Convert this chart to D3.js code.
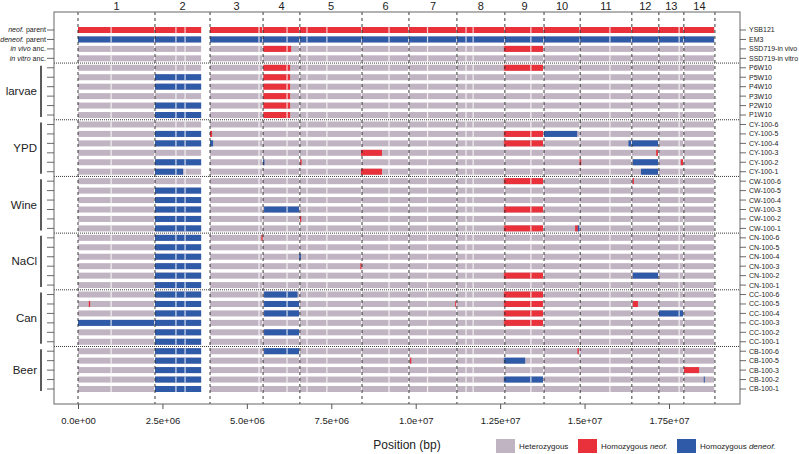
<!DOCTYPE html>
<html>
<head>
<meta charset="utf-8">
<script src="https://cdn.jsdelivr.net/npm/d3@7"></script>
<style>
  body { margin: 0; background: #fff; }
  text { font-family: "Liberation Sans", Arial, sans-serif; fill: #222; }
</style>
</head>
<body>
<div id="chart"></div>
<script>
// chromosome layout (bp)
var chrNames = ["1","2","3","4","5","6","7","8","9","10","11","12","13","14"];
var chrStart = [0, 2.28e6, 3.91e6, 5.48e6, 6.57e6, 8.41e6, 9.80e6, 11.22e6, 12.64e6, 13.80e6, 14.87e6, 16.40e6, 17.20e6, 17.94e6];
var chrEnd   = [2.28e6, 3.67e6, 5.48e6, 6.57e6, 8.41e6, 9.80e6, 11.22e6, 12.64e6, 13.80e6, 14.87e6, 16.40e6, 17.20e6, 17.94e6, 18.86e6];

// marker-free breaks shared by all strains (bp)
var breaks = [0.98e6, 2.90e6, 3.17e6, 5.36e6, 6.19e6, 6.78e6, 7.37e6, 9.21e6, 10.35e6, 11.49e6, 11.70e6, 13.41e6, 15.75e6, 17.80e6];

// strains, top to bottom
var samples = ["YSB121","EM3","SSD719-in vivo","SSD719-in vitro",
  "P6W10","P5W10","P4W10","P3W10","P2W10","P1W10",
  "CY-100-6","CY-100-5","CY-100-4","CY-100-3","CY-100-2","CY-100-1",
  "CW-100-6","CW-100-5","CW-100-4","CW-100-3","CW-100-2","CW-100-1",
  "CN-100-6","CN-100-5","CN-100-4","CN-100-3","CN-100-2","CN-100-1",
  "CC-100-6","CC-100-5","CC-100-4","CC-100-3","CC-100-2","CC-100-1",
  "CB-100-6","CB-100-5","CB-100-3","CB-100-2","CB-100-1"];

var ancestorLabels = [["neof.", " parent"], ["deneof.", " parent"], ["in vivo", " anc."], ["in vitro", " anc."]];
var groupNames = ["larvae", "YPD", "Wine", "NaCl", "Can", "Beer"];
var groupSizes = [6, 6, 6, 6, 6, 5];

// homozygous tracts: [strain, start, end, call]  N = neof., D = deneof.
var tracts = [
  ["YSB121", 0, 18.86e6, "N"],
  ["EM3", 0, 18.86e6, "D"],
  ["SSD719-in vivo", 5.49e6, 6.31e6, "N"], ["SSD719-in vivo", 12.61e6, 13.77e6, "N"],
  ["P6W10", 5.49e6, 6.28e6, "N"], ["P6W10", 12.61e6, 13.77e6, "N"],
  ["P5W10", 2.28e6, 3.67e6, "D"], ["P5W10", 5.49e6, 6.28e6, "N"],
  ["P4W10", 2.28e6, 3.67e6, "D"], ["P4W10", 5.49e6, 6.28e6, "N"],
  ["P3W10", 5.49e6, 6.28e6, "N"],
  ["P2W10", 2.28e6, 3.67e6, "D"], ["P2W10", 5.49e6, 6.28e6, "N"],
  ["P1W10", 2.28e6, 3.67e6, "D"], ["P1W10", 5.49e6, 6.28e6, "N"],
  ["CY-100-5", 2.28e6, 3.67e6, "D"], ["CY-100-5", 3.91e6, 3.97e6, "N"], ["CY-100-5", 12.61e6, 13.77e6, "N"], ["CY-100-5", 13.80e6, 14.78e6, "D"],
  ["CY-100-4", 2.28e6, 3.67e6, "D"], ["CY-100-4", 3.91e6, 4.00e6, "D"], ["CY-100-4", 12.61e6, 13.77e6, "N"], ["CY-100-4", 16.30e6, 17.20e6, "D"],
  ["CY-100-3", 8.38e6, 9.00e6, "N"], ["CY-100-3", 17.12e6, 17.17e6, "N"],
  ["CY-100-2", 2.28e6, 3.67e6, "D"], ["CY-100-2", 5.48e6, 5.52e6, "D"], ["CY-100-2", 6.58e6, 6.62e6, "N"], ["CY-100-2", 14.85e6, 14.89e6, "N"], ["CY-100-2", 16.43e6, 17.20e6, "D"], ["CY-100-2", 17.85e6, 17.94e6, "N"],
  ["CY-100-1", 2.28e6, 3.11e6, "D"], ["CY-100-1", 8.38e6, 9.00e6, "N"], ["CY-100-1", 16.67e6, 17.20e6, "D"],
  ["CW-100-6", 12.61e6, 13.77e6, "N"], ["CW-100-6", 16.42e6, 16.46e6, "N"],
  ["CW-100-5", 2.28e6, 3.67e6, "D"],
  ["CW-100-4", 2.28e6, 3.67e6, "D"],
  ["CW-100-3", 2.28e6, 3.67e6, "D"], ["CW-100-3", 5.51e6, 6.57e6, "D"], ["CW-100-3", 12.61e6, 13.77e6, "N"],
  ["CW-100-2", 2.28e6, 3.67e6, "D"], ["CW-100-2", 6.57e6, 6.61e6, "N"],
  ["CW-100-1", 2.28e6, 3.67e6, "D"], ["CW-100-1", 12.61e6, 13.77e6, "N"], ["CW-100-1", 14.72e6, 14.80e6, "N"], ["CW-100-1", 14.80e6, 14.87e6, "D"],
  ["CN-100-6", 2.28e6, 3.67e6, "D"], ["CN-100-6", 5.43e6, 5.47e6, "N"],
  ["CN-100-5", 2.28e6, 3.67e6, "D"],
  ["CN-100-4", 2.28e6, 3.67e6, "D"], ["CN-100-4", 6.55e6, 6.59e6, "D"],
  ["CN-100-3", 2.28e6, 3.67e6, "D"], ["CN-100-3", 8.36e6, 8.40e6, "N"],
  ["CN-100-2", 2.28e6, 3.67e6, "D"], ["CN-100-2", 12.61e6, 13.77e6, "N"], ["CN-100-2", 16.43e6, 17.20e6, "D"],
  ["CN-100-1", 2.28e6, 3.67e6, "D"],
  ["CC-100-6", 2.28e6, 3.67e6, "D"], ["CC-100-6", 5.51e6, 6.50e6, "D"], ["CC-100-6", 12.61e6, 13.77e6, "N"],
  ["CC-100-5", 0.32e6, 0.36e6, "N"], ["CC-100-5", 2.28e6, 3.67e6, "D"], ["CC-100-5", 5.51e6, 6.57e6, "D"], ["CC-100-5", 11.17e6, 11.22e6, "N"], ["CC-100-5", 12.61e6, 13.77e6, "N"], ["CC-100-5", 16.43e6, 16.58e6, "N"],
  ["CC-100-4", 2.28e6, 3.67e6, "D"], ["CC-100-4", 5.51e6, 6.57e6, "D"], ["CC-100-4", 12.61e6, 13.77e6, "N"], ["CC-100-4", 17.20e6, 17.94e6, "D"],
  ["CC-100-3", 0, 3.67e6, "D"], ["CC-100-3", 12.61e6, 13.77e6, "N"],
  ["CC-100-2", 2.28e6, 3.67e6, "D"], ["CC-100-2", 5.51e6, 6.57e6, "D"],
  ["CC-100-1", 2.28e6, 3.67e6, "D"],
  ["CB-100-6", 2.28e6, 3.67e6, "D"], ["CB-100-6", 5.51e6, 6.57e6, "D"], ["CB-100-6", 14.79e6, 14.83e6, "N"],
  ["CB-100-5", 2.28e6, 3.67e6, "D"], ["CB-100-5", 9.83e6, 9.87e6, "N"], ["CB-100-5", 12.61e6, 13.24e6, "D"],
  ["CB-100-3", 2.28e6, 3.67e6, "D"], ["CB-100-3", 17.94e6, 18.39e6, "N"],
  ["CB-100-2", 2.28e6, 3.67e6, "D"], ["CB-100-2", 12.61e6, 13.77e6, "D"], ["CB-100-2", 18.53e6, 18.56e6, "D"],
  ["CB-100-1", 2.28e6, 3.67e6, "D"]
];

// x axis
var tickValues = [0, 2.5e6, 5e6, 7.5e6, 1e7, 1.25e7, 1.5e7, 1.75e7];
var tickLabels = ["0.0e+00", "2.5e+06", "5.0e+06", "7.5e+06", "1.0e+07", "1.25e+07", "1.5e+07", "1.75e+07"];

// legend
var legendCalls = ["H", "N", "D"];
var legendText = [["Heterozygous", ""], ["Homozygous ", "neof."], ["Homozygous ", "deneof."]];

////////////////////////////////////////////////////////
// Setup ///////////////////////////////////////////////
////////////////////////////////////////////////////////

var W = 799, H = 454;
var box = { left: 54, right: 740, top: 12, bottom: 404 };
var colors = { H: "#c1b4c2", N: "#e8313a", D: "#2e5aa8" };
var barH = 6;

var x = d3.scaleLinear().domain([0, 1.75e7]).range([78, 669]);
var y = d3.scalePoint().domain(samples).range([30, 389]);
var step = y.step();

var svg = d3.select("#chart").append("svg")
  .attr("width", W).attr("height", H);

////////////////////////////////////////////////////////
// Bars ////////////////////////////////////////////////
////////////////////////////////////////////////////////

var cells = [];
samples.forEach(function(s) {
  chrStart.forEach(function(c0, i) { cells.push({ s: s, a: c0, b: chrEnd[i] }); });
});

var gBars = svg.append("g");
gBars.selectAll("rect.het").data(cells).enter().append("rect")
  .attr("x", function(d) { return x(d.a); })
  .attr("width", function(d) { return Math.max(0.5, x(d.b) - x(d.a) - 0.8); })
  .attr("y", function(d) { return y(d.s) - barH / 2; })
  .attr("height", barH)
  .attr("fill", colors.H);

// clip homozygous tracts to chromosomes
var homo = [];
tracts.forEach(function(t) {
  chrStart.forEach(function(c0, i) {
    var a = Math.max(t[1], c0), b = Math.min(t[2], chrEnd[i]);
    if (b > a) homo.push({ s: t[0], a: a, b: b, call: t[3], end: b === chrEnd[i] });
  });
});

gBars.selectAll("rect.homo").data(homo).enter().append("rect")
  .attr("x", function(d) { return x(d.a); })
  .attr("width", function(d) { return Math.max(1, x(d.b) - x(d.a) - (d.end ? 0.8 : 0)); })
  .attr("y", function(d) { return y(d.s) - barH / 2; })
  .attr("height", barH)
  .attr("fill", function(d) { return colors[d.call]; });

// white breaks
var brk = [];
samples.forEach(function(s) { breaks.forEach(function(b) { brk.push({ s: s, p: b }); }); });
gBars.selectAll("rect.brk").data(brk).enter().append("rect")
  .attr("x", function(d) { return x(d.p) - 0.6; })
  .attr("width", 1.2)
  .attr("y", function(d) { return y(d.s) - barH / 2; })
  .attr("height", barH)
  .attr("fill", "#fff")
  .attr("opacity", 0.8);

////////////////////////////////////////////////////////
// Dividers ////////////////////////////////////////////
////////////////////////////////////////////////////////

var dividers = chrStart.concat([chrEnd[chrEnd.length - 1]]);
svg.append("g").selectAll("line").data(dividers).enter().append("line")
  .attr("x1", function(d) { return x(d); }).attr("x2", function(d) { return x(d); })
  .attr("y1", box.top).attr("y2", box.bottom)
  .attr("stroke", "#222").attr("stroke-width", 0.9)
  .attr("stroke-dasharray", "3,3");

// chromosome numbers
svg.append("g").selectAll("text").data(chrNames).enter().append("text")
  .attr("x", function(d, i) { return (x(dividers[i]) + x(dividers[i + 1])) / 2; })
  .attr("y", 9.5)
  .attr("text-anchor", "middle")
  .style("font-size", "11px")
  .text(function(d) { return d; });

// group separators
var sepIdx = [3];
groupSizes.slice(0, -1).reduce(function(acc, n) { acc += n; sepIdx.push(acc); return acc; }, 3);
svg.append("g").selectAll("line").data(sepIdx).enter().append("line")
  .attr("x1", box.left).attr("x2", box.right)
  .attr("y1", function(i) { return y(samples[i]) + step / 2; })
  .attr("y2", function(i) { return y(samples[i]) + step / 2; })
  .attr("stroke", "#222").attr("stroke-width", 0.9)
  .attr("stroke-dasharray", "1,1");

// frame
svg.append("rect")
  .attr("x", box.left).attr("y", box.top)
  .attr("width", box.right - box.left).attr("height", box.bottom - box.top)
  .attr("fill", "none").attr("stroke", "#666").attr("stroke-width", 1);

////////////////////////////////////////////////////////
// Axes ////////////////////////////////////////////////
////////////////////////////////////////////////////////

var xAxis = svg.append("g")
  .attr("transform", "translate(0," + box.bottom + ")")
  .call(d3.axisBottom(x).tickValues(tickValues)
    .tickFormat(function(d, i) { return tickLabels[i]; })
    .tickSize(5).tickPadding(8));
xAxis.select(".domain").remove();
xAxis.selectAll("line").attr("stroke", "#555");
xAxis.selectAll("text").style("font-size", "9.5px")
  .style("font-family", "'Liberation Sans', Arial, sans-serif").attr("fill", "#333");

svg.append("text")
  .attr("x", 407).attr("y", 449)
  .attr("text-anchor", "middle")
  .style("font-size", "12px")
  .text("Position (bp)");

// left and right ticks
svg.append("g").selectAll("line").data(samples).enter().append("line")
  .attr("x1", box.left - 7).attr("x2", box.left)
  .attr("y1", function(d) { return y(d); }).attr("y2", function(d) { return y(d); })
  .attr("stroke", "#444").attr("stroke-width", 0.8);
svg.append("g").selectAll("line").data(samples).enter().append("line")
  .attr("x1", box.right).attr("x2", box.right + 6)
  .attr("y1", function(d) { return y(d); }).attr("y2", function(d) { return y(d); })
  .attr("stroke", "#444").attr("stroke-width", 0.8);

svg.append("g").selectAll("text").data(samples).enter().append("text")
  .attr("x", box.right + 9)
  .attr("y", function(d) { return y(d); })
  .attr("dy", "0.35em")
  .style("font-size", "7px").attr("fill", "#333")
  .text(function(d) { return d; });

// ancestor labels
var anc = svg.append("g").selectAll("text").data(ancestorLabels).enter().append("text")
  .attr("x", box.left - 8)
  .attr("y", function(d, i) { return y(samples[i]); })
  .attr("dy", "0.35em")
  .attr("text-anchor", "end")
  .style("font-size", "7.1px");
anc.append("tspan").style("font-style", "italic").text(function(d) { return d[0]; });
anc.append("tspan").text(function(d) { return d[1]; });

// group labels with brackets
var groups = [], start = 4;
groupNames.forEach(function(g, i) {
  groups.push({ name: g, first: samples[start], last: samples[start + groupSizes[i] - 1] });
  start += groupSizes[i];
});
var gg = svg.append("g").selectAll("g").data(groups).enter().append("g");
gg.append("line")
  .attr("x1", 41).attr("x2", 41)
  .attr("y1", function(d) { return y(d.first) - 2; })
  .attr("y2", function(d) { return y(d.last) + 2; })
  .attr("stroke", "#333").attr("stroke-width", 1.6);
gg.append("text")
  .attr("x", 37)
  .attr("y", function(d) { return (y(d.first) + y(d.last)) / 2; })
  .attr("dy", "0.35em")
  .attr("text-anchor", "end")
  .style("font-size", "11.5px")
  .text(function(d) { return d.name; });

////////////////////////////////////////////////////////
// Legend //////////////////////////////////////////////
////////////////////////////////////////////////////////

var legX = [496, 578, 677];
var leg = svg.append("g").selectAll("g").data(legendCalls).enter().append("g")
  .attr("transform", function(d, i) { return "translate(" + legX[i] + ",439)"; });
leg.append("rect").attr("width", 19).attr("height", 14)
  .attr("fill", function(d) { return colors[d]; });
var lt = leg.append("text").attr("x", 23).attr("y", 7).attr("dy", "0.35em")
  .style("font-size", "8px").attr("fill", "#333");
lt.append("tspan").text(function(d, i) { return legendText[i][0]; });
lt.append("tspan").style("font-style", "italic").text(function(d, i) { return legendText[i][1]; });
</script>
</body>
</html>
